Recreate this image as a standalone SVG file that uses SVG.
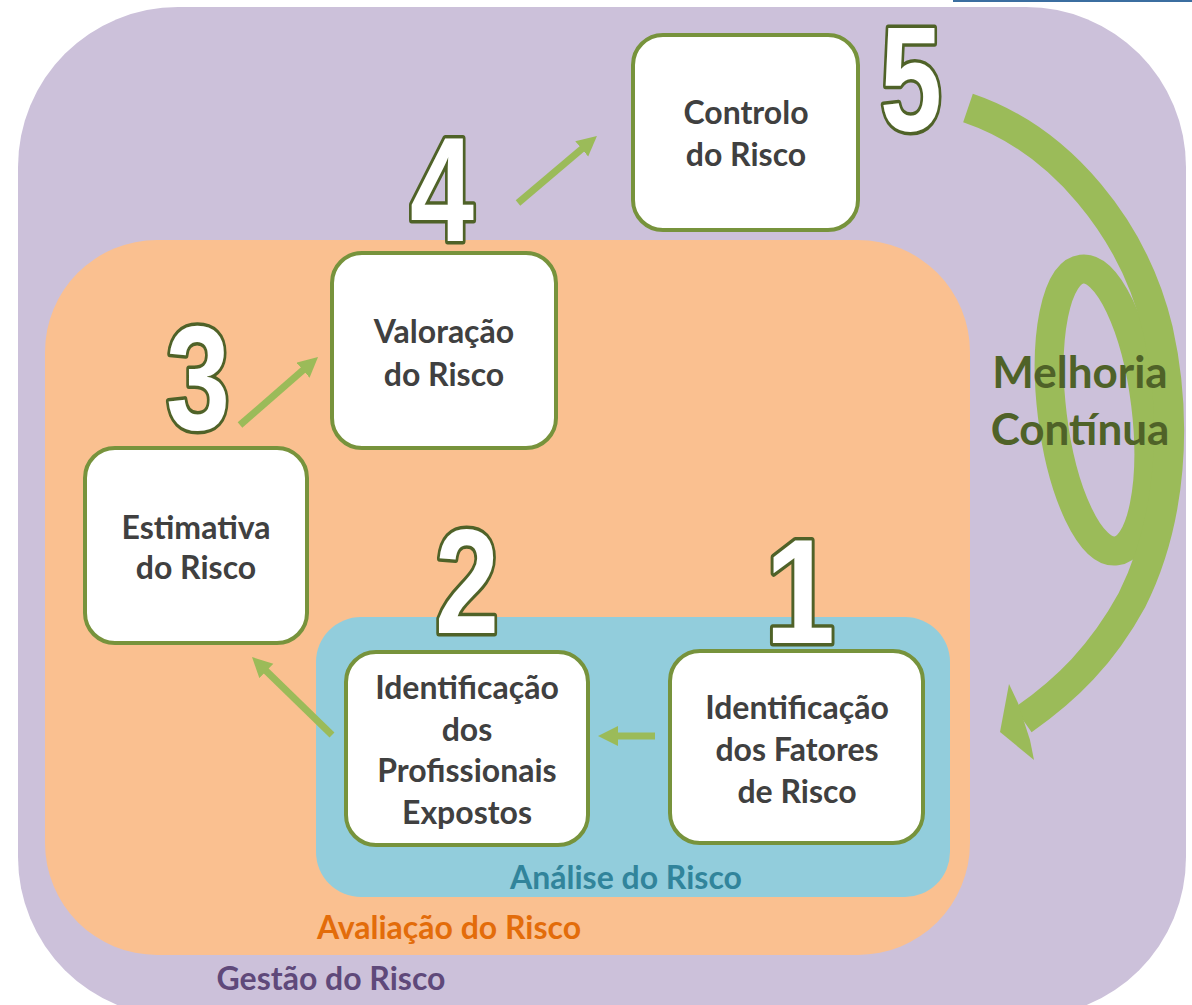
<svg xmlns="http://www.w3.org/2000/svg" width="1192" height="1005" viewBox="0 0 1192 1005">
<defs>
<style>
.node rect{fill:#ffffff;stroke:#77933c;stroke-width:4}
.nt{font-family:Lato,"Liberation Sans",sans-serif;font-weight:bold;font-size:32px;fill:#404040;text-anchor:middle}
.num{font-family:"Liberation Sans",Arial,sans-serif;font-weight:bold;font-size:148px;fill:#ffffff;stroke:#4f6228;stroke-width:7;paint-order:stroke;stroke-linejoin:round;text-anchor:middle}
.lbl{font-family:Lato,"Liberation Sans",sans-serif;font-weight:bold;font-size:32px;text-anchor:middle}
.big{font-size:44px}
.conn line{stroke:#9bbb59;stroke-width:7;fill:none}
</style>
<marker id="ah" markerUnits="userSpaceOnUse" markerWidth="22" markerHeight="22" refX="8" refY="10" orient="auto">
<path d="M0,0 L20,10 L0,20 z" fill="#9bbb59"/>
</marker>
</defs>
<rect x="0" y="0" width="1192" height="1005" fill="#ffffff"/>
<rect x="953" y="0" width="239" height="2" fill="#3b6ea0"/>
<g id="gestao">
<rect x="18" y="7" width="1168" height="1010" rx="160" ry="160" fill="#ccc1da"/>
<text class="lbl" x="331" y="990" fill="#5f497a">Gestão do Risco</text>
</g>
<g id="avaliacao">
<rect x="45" y="240" width="925" height="715" rx="112" ry="112" fill="#fac090"/>
<text class="lbl" x="449" y="939" fill="#e36c0a">Avaliação do Risco</text>
</g>
<g id="analise">
<rect x="316" y="617" width="634" height="280" rx="45" ry="45" fill="#92cddc"/>
<text class="lbl" x="626" y="889" fill="#31849b">Análise do Risco</text>
</g>
<g id="melhoria">
<ellipse cx="1099" cy="410" rx="47" ry="142" transform="rotate(-7 1099 410)" fill="none" stroke="#9bbb59" stroke-width="29"/>
<path d="M968,108 C1062,140 1134,230 1158,330 C1178,420 1172,520 1132,600 C1102,655 1066,690 1023,720" fill="none" stroke="#9bbb59" stroke-width="30"/>
<path d="M1009,684 L1018,703 L1030,740 L1034,760 L1000,732 Z" fill="#9bbb59"/>
<text class="lbl big" x="1080" y="388" fill="#4f6228">Melhoria</text>
<text class="lbl big" x="1080" y="445" fill="#4f6228">Contínua</text>
</g>
<g class="conn" id="connectors">
<line x1="655" y1="736" x2="610" y2="736" marker-end="url(#ah)"/>
<line x1="332" y1="735" x2="260.6" y2="665.4" marker-end="url(#ah)"/>
<line x1="240" y1="425" x2="309" y2="364.9" marker-end="url(#ah)"/>
<line x1="518" y1="203" x2="587.8" y2="143.8" marker-end="url(#ah)"/>
</g>
<g id="node-controlo" class="node">
<rect x="633" y="35" width="225" height="195" rx="30"/>
<text class="nt" x="746" y="124">Controlo</text>
<text class="nt" x="746" y="166">do Risco</text>
</g>
<g id="node-valoracao" class="node">
<rect x="332" y="253" width="224" height="195" rx="30"/>
<text class="nt" x="444" y="343">Valoração</text>
<text class="nt" x="444" y="386">do Risco</text>
</g>
<g id="node-estimativa" class="node">
<rect x="85" y="448" width="222" height="195" rx="30"/>
<text class="nt" x="196" y="539">Estimativa</text>
<text class="nt" x="196" y="579">do Risco</text>
</g>
<g id="node-profissionais" class="node">
<rect x="346" y="652" width="242" height="193" rx="30"/>
<text class="nt" x="467" y="699">Identificação</text>
<text class="nt" x="467" y="741">dos</text>
<text class="nt" x="467" y="782">Profissionais</text>
<text class="nt" x="467" y="824">Expostos</text>
</g>
<g id="node-fatores" class="node">
<rect x="670" y="651" width="253" height="192" rx="30"/>
<text class="nt" x="797" y="719">Identificação</text>
<text class="nt" x="797" y="761">dos Fatores</text>
<text class="nt" x="797" y="803">de Risco</text>
</g>
<g id="numbers">
<text class="num" x="911" y="131" textLength="62" lengthAdjust="spacingAndGlyphs">5</text>
<text class="num" x="442" y="241" textLength="64" lengthAdjust="spacingAndGlyphs">4</text>
<text class="num" x="198" y="429" textLength="64" lengthAdjust="spacingAndGlyphs">3</text>
<text class="num" x="467" y="633" textLength="64" lengthAdjust="spacingAndGlyphs">2</text>
<text class="num" x="800" y="643" textLength="70" lengthAdjust="spacingAndGlyphs">1</text>
</g>
</svg>
